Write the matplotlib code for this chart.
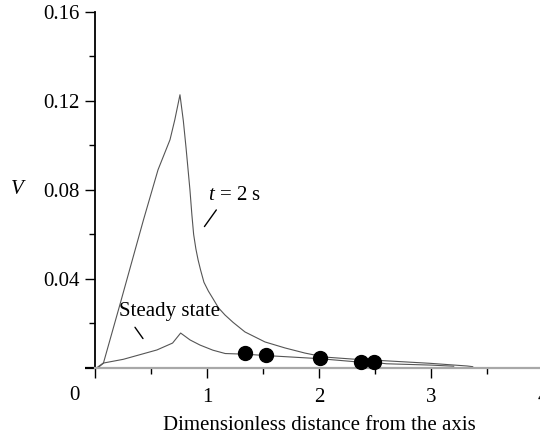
import matplotlib
matplotlib.use("Agg")
import matplotlib.pyplot as plt
from matplotlib.ticker import MultipleLocator
import matplotlib.transforms as mtransforms

plt.rcParams['font.family'] = ['Liberation Serif', 'DejaVu Serif']
plt.rcParams['mathtext.fontset'] = 'custom'
plt.rcParams['mathtext.rm'] = 'Liberation Serif'
plt.rcParams['mathtext.it'] = 'Liberation Serif:italic'

# t = 2 s curve
x_t2 = [0.02, 0.072, 0.22, 0.43, 0.56, 0.667, 0.71, 0.756, 0.786, 0.81, 0.845, 0.862, 0.878,
        0.898, 0.918, 0.94, 0.97, 1.01, 1.05, 1.10, 1.158, 1.23, 1.336, 1.515, 1.694, 1.872,
        2.05, 2.3, 2.57, 2.99, 3.32, 3.37]
v_t2 = [0.0, 0.0021, 0.0285, 0.0665, 0.089, 0.1025, 0.1115, 0.1227, 0.111, 0.099, 0.080, 0.069, 0.060,
        0.0535, 0.0485, 0.0440, 0.0385, 0.0345, 0.0312, 0.027, 0.0238, 0.0205, 0.0162, 0.0117, 0.0090, 0.0067,
        0.0049, 0.0040, 0.0033, 0.0021, 0.0009, 0.0006]

# steady state curve
x_ss = [0.01, 0.07, 0.25, 0.55, 0.69, 0.762, 0.846, 0.935, 1.05, 1.16, 1.34, 1.52,
        2.0, 2.37, 2.49, 2.6, 3.0, 3.2]
v_ss = [0.0, 0.0022, 0.0039, 0.0081, 0.0112, 0.0157, 0.0126, 0.0103, 0.0080, 0.0065, 0.0062, 0.0056,
        0.0042, 0.0026, 0.0025, 0.0019, 0.0013, 0.0008]

# measured points
x_pts = [1.34, 1.52, 2.01, 2.37, 2.49]
v_pts = [0.0067, 0.0058, 0.0043, 0.0025, 0.0027]

xticks = [0, 1, 2, 3, 4]
xticklabels = ['', '1', '2', '3', '4']
yticks = [0, 0.04, 0.08, 0.12, 0.16]
yticklabels = ['', '0.04', '0.08', '0.12', '0.16']

W, H = 540, 440
FS = 15
fig = plt.figure(figsize=(W / 100, H / 100), dpi=100)
x0, x1 = 95.3, 543.3
y0, y1 = 368.0, 11.7
ax = fig.add_axes([x0 / W, (H - y0) / H, (x1 - x0) / W, (y0 - y1) / H])

line_col = '#555555'
ax.plot(x_t2, v_t2, color=line_col, lw=0.8)
ax.plot(x_ss, v_ss, color=line_col, lw=0.8)
ax.plot(x_pts, v_pts, 'o', color='black', ms=10, ls='none', clip_on=False, zorder=5)

ax.set_xlim(0, 4)
ax.set_ylim(0, 0.16)

for s in ['top', 'right']:
    ax.spines[s].set_visible(False)
ax.spines['left'].set_linewidth(1.3)
ax.spines['left'].set_color('black')
ax.spines['bottom'].set_linewidth(1.6)
ax.spines['bottom'].set_color('#a8a8a8')

ax.set_xticks(xticks)
ax.set_xticklabels(xticklabels)
ax.set_yticks(yticks)
ax.set_yticklabels(yticklabels)
ax.xaxis.set_minor_locator(MultipleLocator(0.5))
ax.yaxis.set_minor_locator(MultipleLocator(0.02))

ax.tick_params(axis='both', which='major', direction='out', length=7.5, width=1.0,
               labelsize=FS, color='black')
ax.tick_params(axis='both', which='minor', direction='out', length=4, width=1.0, color='black')
ax.tick_params(axis='x', which='major', pad=7)
ax.tick_params(axis='y', which='major', pad=4)
ytk0 = ax.yaxis.get_major_ticks()[0]
ytk0.tick1line.set_color('#a8a8a8')
ytk0.tick1line.set_markeredgewidth(1.6)

# origin label "0"
trans = mtransforms.blended_transform_factory(ax.transData, fig.transFigure)
ax.text(-0.19, (H - 395) / H, '0', transform=trans, fontsize=FS, ha='center', va='center')

# axis labels
fig.text(319.5 / W, (H - 425) / H, 'Dimensionless distance from the axis', fontsize=FS,
         ha='center', va='center')
fig.text(17 / W, (H - 189) / H, 'V', fontsize=FS, style='italic', ha='center', va='center')

# annotations
ax.text(1.005, 0.0775, '$t$ = 2 s', fontsize=FS, ha='left', va='center')
ax.annotate('', xy=(0.96, 0.0625), xytext=(1.095, 0.0720),
            arrowprops=dict(arrowstyle='-', color='black', lw=1.0))
ax.text(0.66, 0.0253, 'Steady state', fontsize=FS, ha='center', va='center')
ax.annotate('', xy=(0.44, 0.0122), xytext=(0.34, 0.0193),
            arrowprops=dict(arrowstyle='-', color='black', lw=1.0))

fig.savefig('out.png', dpi=100)
